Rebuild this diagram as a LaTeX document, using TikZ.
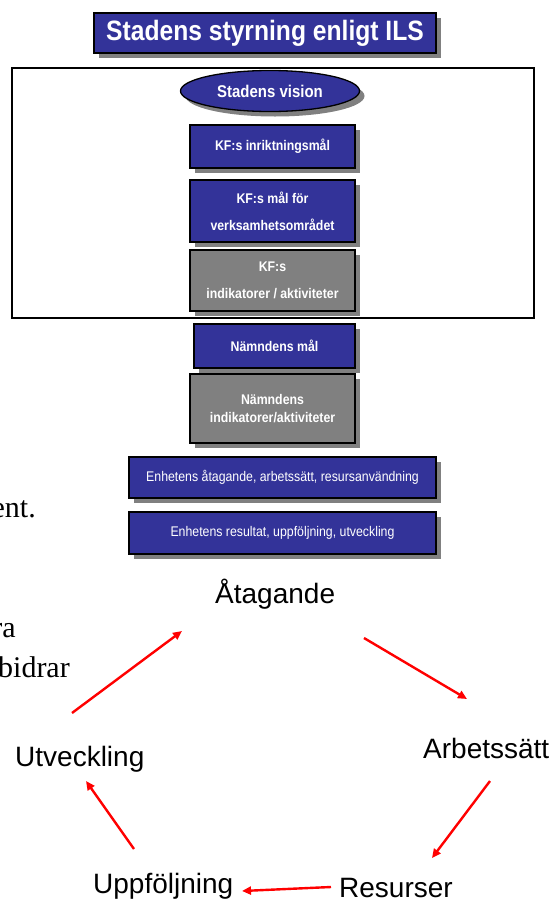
\documentclass[tikz,border=0pt]{standalone}
\usepackage{fontspec}
\setmainfont{Liberation Sans}
\newfontfamily\narrowsans[FakeStretch=0.88]{Liberation Sans}
\newfontfamily\seriffrag{Liberation Serif}
\usetikzlibrary{shapes.geometric,shadows,arrows.meta}
\definecolor{ilsblue}{HTML}{333399}
\definecolor{ilsgray}{HTML}{808080}
\definecolor{shadowgray}{HTML}{808080}
\tikzset{
  shadowed/.style={drop shadow={shadow xshift=5pt, shadow yshift=-5pt, fill=shadowgray, opacity=1}},
  bluebox/.style={shadowed, draw=black, line width=1.3pt, fill=ilsblue, text=white,
    inner sep=0pt, align=center, font=\narrowsans\bfseries\fontsize{14}{18}\selectfont},
  graybox/.style={bluebox, fill=ilsgray},
  unitbox/.style={bluebox, font=\narrowsans\fontsize{14}{18}\selectfont},
  cyclabel/.style={font=\fontsize{28}{32}\selectfont, anchor=base west, inner sep=0pt},
  cycarrow/.style={draw=red, line width=2.4pt, -{Triangle[length=9pt,width=8pt]}},
  fragment/.style={font=\seriffrag\fontsize{30}{34}\selectfont, anchor=base east, inner sep=0pt},
}
\begin{document}
\begin{tikzpicture}[x=1pt,y=-1pt]
\useasboundingbox (0,0) rectangle (552,900);

% heading
\node[bluebox, font=\narrowsans\bfseries\fontsize{28}{32}\selectfont,
      minimum width=342pt, minimum height=40pt] (title) at (265,33) {Stadens styrning enligt ILS};

% frame around the city-level part
\node[draw=black, line width=1.2pt, minimum width=522pt, minimum height=250pt, inner sep=0pt] (frame) at (273,193) {};

\node[bluebox, ellipse, minimum width=179pt, minimum height=41pt,
      font=\narrowsans\bfseries\fontsize{17}{20}\selectfont] (vision) at (270,91) {Stadens vision};
\node[bluebox, minimum width=165pt, minimum height=43pt] (kf1) at (272.5,146.5) {KF:s inriktningsmål};
\node[bluebox, minimum width=165pt, minimum height=62pt] (kf2) at (272.5,211) {KF:s mål för\\[9pt]verksamhetsområdet};
\node[graybox, minimum width=165pt, minimum height=61pt] (kf3) at (272.5,280.5) {KF:s\\[9pt]indikatorer / aktiviteter};

% committee and unit levels
\node[bluebox, minimum width=161pt, minimum height=44pt] (nm1) at (274.5,346) {Nämndens mål};
\node[graybox, minimum width=165pt, minimum height=69pt] (nm2) at (272.5,408.5) {Nämndens\\indikatorer/aktiviteter};
\node[unitbox, minimum width=307pt, minimum height=41pt] (en1) at (282.5,477.5) {Enhetens åtagande, arbetssätt, resursanvändning};
\node[unitbox, minimum width=307pt, minimum height=42pt] (en2) at (282.5,533) {Enhetens resultat, uppföljning, utveckling};

% text fragments at the left margin
\node[fragment] (fr1) at (36,517) {ent.};
\node[fragment] (fr2) at (16,637) {ra};
\node[fragment] (fr3) at (70,677) {bidrar};

% the cycle
\node[cyclabel] (ata) at (215,603) {Åtagande};
\node[cyclabel] (arb) at (423,758) {Arbetssätt};
\node[cyclabel] (res) at (339,897) {Resurser};
\node[cyclabel] (upp) at (93,893) {Uppföljning};
\node[cyclabel] (utv) at (15,766) {Utveckling};

\coordinate (utvout) at (72,713);
\coordinate (atain) at (182,631);
\coordinate (ataout) at (364,638);
\coordinate (arbin) at (467,699);
\coordinate (arbout) at (490,781);
\coordinate (resin) at (432,858);
\coordinate (resout) at (331,887);
\coordinate (uppin) at (242,891);
\coordinate (uppout) at (134,849);
\coordinate (utvin) at (86,781);

\draw[cycarrow] (utvout) -- (atain);
\draw[cycarrow] (ataout) -- (arbin);
\draw[cycarrow] (arbout) -- (resin);
\draw[cycarrow] (resout) -- (uppin);
\draw[cycarrow] (uppout) -- (utvin);
\end{tikzpicture}
\end{document}
